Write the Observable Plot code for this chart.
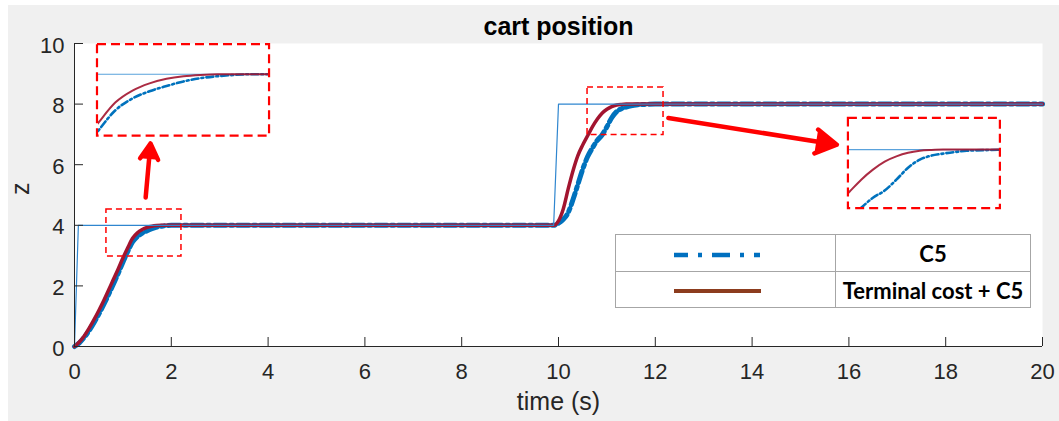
<!DOCTYPE html>
<html>
<head>
<meta charset="utf-8">
<script src="https://cdn.jsdelivr.net/npm/d3@7"></script>
<script src="https://cdn.jsdelivr.net/npm/@observablehq/plot@0.6"></script>
<style>
  body { margin: 0; background: #fff; }
  #fig { position: relative; width: 1059px; height: 421px; overflow: hidden; font-family: "Liberation Sans", Arial, sans-serif; }
  #bg { position: absolute; left: 8px; top: 5px; right: 0; bottom: 0; background: #f0f0f0; }
  #main { position: absolute; left: 0; top: 0; }
  .inset { position: absolute; overflow: hidden; }
  #legend { position: absolute; left: 615px; top: 234px; width: 414px; height: 72px; border: 1px solid #a6a6a6; background: #fff; font-family: Lato, "Open Sans", sans-serif; font-weight: bold; font-size: 22px; color: #000; }
  #legend .vline { position: absolute; left: 219px; top: 0; bottom: 0; border-left: 1px solid #a6a6a6; }
  #legend .hline { position: absolute; left: 0; right: 0; top: 36px; border-top: 1px solid #a6a6a6; }
  #legend .lab { position: absolute; left: 220px; right: 0; text-align: center; line-height: 26px; }
  #legend svg { position: absolute; left: 0; top: 0; }
</style>
</head>
<body>
<div id="fig">
  <div id="bg"></div>
  <div id="main"></div>
  <div id="legend">
    <div class="vline"></div>
    <div class="hline"></div>
    <svg width="220" height="72">
      <line x1="58" x2="145" y1="20" y2="20" stroke="#0070C0" stroke-width="4.5" stroke-dasharray="14 10 4 10 18 10 4 10 6"></line>
      <line x1="58" x2="145" y1="56" y2="56" stroke="#8c3c1e" stroke-width="4"></line>
    </svg>
    <div class="lab" id="lab1" style="top:6px;"></div>
    <div class="lab" id="lab2" style="top:43px;"></div>
  </div>
</div>
<script>
// Time axis (s) and tick values
const xTicks = [0, 2, 4, 6, 8, 10, 12, 14, 16, 18, 20];
const yTicks = [0, 2, 4, 6, 8, 10];

// Reference position (step commands)
const refT = [0, 0.08, 9.9, 10.0, 20];
const refZ = [0, 4, 4, 8, 8];

// C5 controller response
const c5T = [0, 0.1, 0.2, 0.3, 0.4, 0.5, 0.6, 0.7, 0.8, 0.9, 1.0, 1.1, 1.2, 1.3, 1.4, 1.5, 1.6, 1.7, 1.8, 1.9, 2.0, 2.2,
             9.9, 10.0, 10.1, 10.2, 10.3, 10.4, 10.5, 10.6, 10.7, 10.8, 10.9, 11.0, 11.1, 11.2, 11.3, 11.4, 11.5, 11.6, 11.8, 12.0, 12.4, 20];
const c5Z = [0, 0.12, 0.3, 0.52, 0.78, 1.06, 1.37, 1.7, 2.05, 2.4, 2.78, 3.14, 3.45, 3.63, 3.74, 3.82, 3.89, 3.94, 3.97, 3.99, 4.0, 4.0,
             4.0, 4.07, 4.2, 4.42, 4.85, 5.35, 5.85, 6.26, 6.55, 6.8, 6.98, 7.25, 7.55, 7.75, 7.85, 7.9, 7.94, 7.97, 7.99, 8.0, 8.0, 8.0];

// Terminal cost + C5 response
const termT = [0, 0.1, 0.2, 0.3, 0.4, 0.5, 0.6, 0.7, 0.8, 0.9, 1.0, 1.1, 1.2, 1.3, 1.4, 1.5, 1.6, 1.7, 1.8, 2.0,
               9.9, 10.0, 10.1, 10.2, 10.3, 10.4, 10.5, 10.6, 10.7, 10.8, 10.9, 11.0, 11.1, 11.2, 11.3, 11.4, 11.6, 20];
const termZ = [0, 0.15, 0.35, 0.6, 0.88, 1.18, 1.5, 1.85, 2.2, 2.55, 2.92, 3.26, 3.57, 3.75, 3.86, 3.93, 3.97, 3.99, 4.0, 4.0,
               4.0, 4.15, 4.55, 5.2, 5.8, 6.3, 6.65, 6.95, 7.25, 7.5, 7.7, 7.83, 7.92, 7.97, 7.99, 8.0, 8.0, 8.0];

const seriesNames = ["C5", "Terminal cost + C5"];

// Zoom windows (t range, z range) and where their magnified views sit (in axis units)
const zoomT = [[1.1, 2.1], [10.6, 11.88]];
const zoomZ = [[3.07, 4.44], [6.55, 8.75]];
const markT = [[0.66, 2.21], [10.6, 12.17]];
const markZ = [[2.97, 4.52], [6.98, 8.55]];
const viewT = [[0.475, 4.03], [15.99, 19.13]];
const viewZ = [[6.94, 9.96], [4.55, 7.53]];
// Arrows from each marked window to its magnified view
const arrowFrom = [[1.47, 4.92], [12.27, 7.54]];
const arrowTo = [[1.57, 6.7], [15.75, 6.66]];

const rows = (ts, zs) => ts.map((t, i) => ({t, z: zs[i]}));
const ref = rows(refT, refZ);
const c5 = rows(c5T, c5Z);
const term = rows(termT, termZ);
const markBoxes = markT.map((t, i) => ({t1: t[0], t2: t[1], z1: markZ[i][0], z2: markZ[i][1]}));
const viewBoxes = viewT.map((t, i) => ({t1: t[0], t2: t[1], z1: viewZ[i][0], z2: viewZ[i][1]}));
const arrows = arrowFrom.map((a, i) => ({x1: a[0], y1: a[1], x2: arrowTo[i][0], y2: arrowTo[i][1]}));

const W = 1059, H = 421, mL = 74, mR = 17, mT = 43, mB = 75;
const axisColor = "#262626";
const font = "Liberation Sans, Arial, sans-serif";

const chart = Plot.plot({
  width: W, height: H,
  marginLeft: mL, marginRight: mR, marginTop: mT, marginBottom: mB,
  style: {background: "transparent", fontFamily: font, overflow: "visible"},
  x: {domain: [0, 20], axis: null},
  y: {domain: [0, 10], axis: null},
  marks: [
    Plot.frame({fill: "white", stroke: "none"}),
    Plot.line(c5, {x: "t", y: "z", stroke: "#0072BD", strokeWidth: 5, strokeDasharray: "12 4 3 4", curve: "monotone-x"}),
    Plot.line(term, {x: "t", y: "z", stroke: "#A2142F", strokeWidth: 3.5, curve: "monotone-x"}),
    Plot.line(ref, {x: "t", y: "z", stroke: "#2f86cf", strokeWidth: 1.2}),
    Plot.rect(markBoxes, {x1: "t1", x2: "t2", y1: "z1", y2: "z2", fill: "none", stroke: "#ff0000", strokeWidth: 1.5, strokeDasharray: "6 4"}),
    Plot.rect(viewBoxes, {x1: "t1", x2: "t2", y1: "z1", y2: "z2", fill: "none", stroke: "#ff0000", strokeWidth: 2.2, strokeDasharray: "9 5"}),
    Plot.arrow(arrows, {x1: "x1", y1: "y1", x2: "x2", y2: "y2", stroke: "#ff0000", fill: "#ff0000", strokeWidth: 4.5, headLength: 8, headAngle: 60, strokeLinejoin: "round"}),
    // axes: lines, inward ticks, labels
    Plot.ruleY([0], {stroke: axisColor, strokeWidth: 1}),
    Plot.ruleX([0], {stroke: axisColor, strokeWidth: 1}),
    Plot.ruleX(xTicks, {x: d => d, y1: 0, y2: 0, insetTop: -9, stroke: axisColor}),
    Plot.ruleY(yTicks, {y: d => d, x1: 0, x2: 0, insetRight: -9, stroke: axisColor}),
    Plot.text(xTicks, {x: d => d, text: d => String(d), frameAnchor: "bottom", lineAnchor: "top", dy: 17, fontSize: 22, fill: axisColor}),
    Plot.text(yTicks, {y: d => d, text: d => String(d), frameAnchor: "left", textAnchor: "end", dx: -10, dy: 2, fontSize: 22, fill: axisColor}),
    Plot.text(["time (s)"], {text: d => d, frameAnchor: "bottom", lineAnchor: "top", dy: 46, fontSize: 25, fill: axisColor}),
    Plot.text(["z"], {text: d => d, frameAnchor: "left", lineAnchor: "middle", dx: -54, rotate: -90, fontSize: 25, fill: axisColor}),
    Plot.text(["cart position"], {text: d => d, frameAnchor: "top", lineAnchor: "middle", dy: -17, fontSize: 25, fontWeight: "bold", fill: "#000"})
  ]
});
document.getElementById("main").appendChild(chart);

// Magnified views, positioned through the main chart's scales
const sx = chart.scale("x"), sy = chart.scale("y");
const px = d3.scaleLinear(sx.domain, sx.range);
const py = d3.scaleLinear(sy.domain, sy.range);
const fig = document.getElementById("fig");
viewBoxes.forEach((b, i) => {
  const left = px(b.t1) + 1, right = px(b.t2) - 1;
  const top = py(b.z2) + 1, bottom = py(b.z1) - 1;
  const w = right - left, h = bottom - top;
  const inset = Plot.plot({
    width: w, height: h, margin: 0,
    style: {background: "transparent"},
    x: {domain: zoomT[i], axis: null},
    y: {domain: zoomZ[i], axis: null},
    marks: [
      Plot.line(ref, {x: "t", y: "z", stroke: "#5aa2dc", strokeWidth: 1.2}),
      Plot.line(c5, {x: "t", y: "z", stroke: "#0072BD", strokeWidth: 2.6, strokeDasharray: "7 3 2 3", curve: "monotone-x"}),
      Plot.line(term, {x: "t", y: "z", stroke: "#A2142F", strokeWidth: 2, strokeOpacity: 0.9, curve: "monotone-x"})
    ]
  });
  const div = document.createElement("div");
  div.className = "inset";
  div.style.left = left + "px";
  div.style.top = top + "px";
  div.style.width = w + "px";
  div.style.height = h + "px";
  div.appendChild(inset);
  fig.insertBefore(div, document.getElementById("legend"));
});

document.getElementById("lab1").textContent = seriesNames[0];
document.getElementById("lab2").textContent = seriesNames[1];
</script>
</body>
</html>
